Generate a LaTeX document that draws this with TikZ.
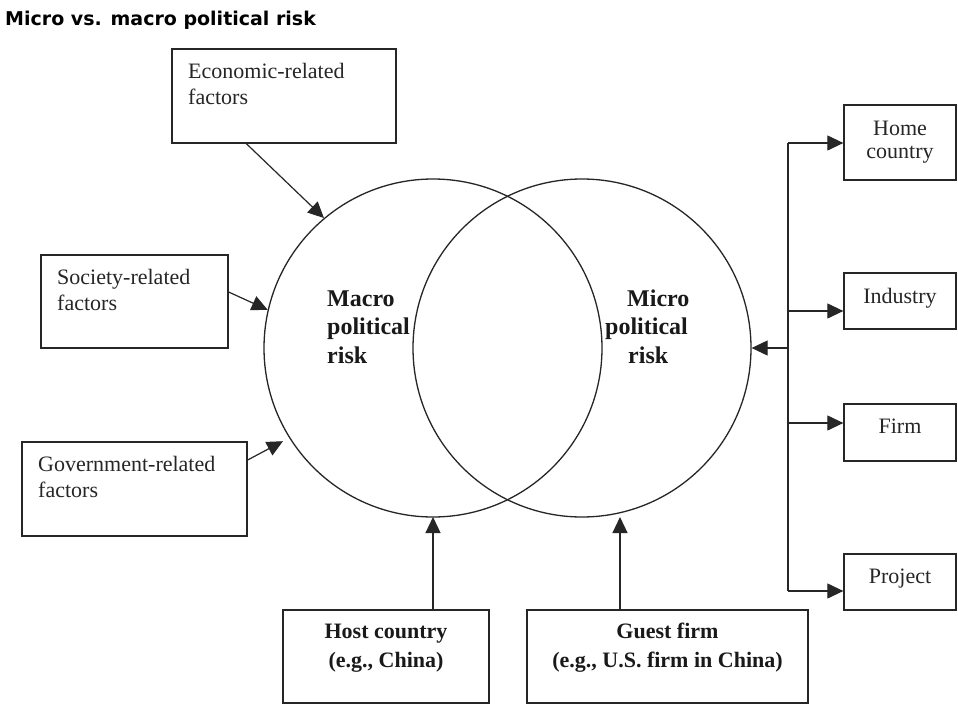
\documentclass[tikz,border=0pt]{standalone}
\usepackage{fontspec}
\setmainfont{Liberation Serif}
\newfontfamily\titlefam{DejaVu Sans}
\usetikzlibrary{arrows.meta,calc}
\tikzset{
  box/.style={draw=black!85, line width=1.3pt, inner sep=0pt, rectangle},
  ring/.style={draw=black!85, line width=1.3pt, circle, inner sep=0pt, minimum size=338pt},
  conn/.style={draw=black!85, line width=1.2pt},
  arr/.style={conn, -{Triangle[length=16pt,width=15pt]}},
  reg/.style={inner sep=0pt, font=\fontsize{22}{26}\selectfont, text=black!85},
  bld/.style={inner sep=0pt, font=\fontsize{22}{29}\selectfont\bfseries, text=black!90},
  big/.style={inner sep=0pt, font=\fontsize{24}{28.5}\selectfont\bfseries, text=black!90}
}
\begin{document}
\begin{tikzpicture}[x=1pt,y=-1pt]
\useasboundingbox (0,0) rectangle (958,704);
\fill[white] (0,0) rectangle (958,704);
% title
\node[anchor=base west, inner sep=0pt, font=\titlefam\fontsize{19}{22}\selectfont\bfseries] (title) at (5,25) {Micro vs. macro political risk};
% circles
\node[ring] (macro) at (433,348) {};
\node[ring] (micro) at (582,348) {};
\node[big, anchor=base west, align=left] (macrotxt) at (327,363) {Macro\\political\\risk};
\node[big, anchor=base west, align=left] (microtxt) at (605,363) {\hspace*{22pt}Micro\\political\\\hspace*{23pt}risk};
% left boxes
\node[box, minimum width=224pt, minimum height=94pt] (econ) at (284,96) {};
\node[reg, anchor=base west, align=left] (econtxt) at (188,104) {Economic-related\\factors};
\node[box, minimum width=187pt, minimum height=93pt] (soc) at (134.5,301.5) {};
\node[reg, anchor=base west, align=left] (soctxt) at (57,310) {Society-related\\factors};
\node[box, minimum width=225pt, minimum height=94pt] (gov) at (134.5,489) {};
\node[reg, anchor=base west, align=left] (govtxt) at (38,497) {Government-related\\factors};
% bottom boxes
\node[box, minimum width=206pt, minimum height=93pt] (host) at (386,656.5) {};
\node[bld, anchor=base, align=center] (hosttxt) at (386,667) {Host country\\(e.g., China)};
\node[box, minimum width=281pt, minimum height=93pt] (guest) at (667.5,656.5) {};
\node[bld, anchor=base, align=center] (guesttxt) at (667.5,667) {Guest firm\\(e.g., U.S. firm in China)};
% right boxes
\node[box, minimum width=112pt, minimum height=75pt] (home) at (900,142.5) {};
\node[reg, anchor=base, align=center, font=\fontsize{22}{23}\selectfont] (hometxt) at (900,158) {Home\\country};
\node[box, minimum width=112pt, minimum height=56pt] (ind) at (900,301) {};
\node[reg, anchor=base] (indtxt) at (900,303) {Industry};
\node[box, minimum width=112pt, minimum height=57pt] (firm) at (900,432.5) {};
\node[reg, anchor=base] (firmtxt) at (900,433) {Firm};
\node[box, minimum width=112pt, minimum height=56pt] (proj) at (900,582) {};
\node[reg, anchor=base] (projtxt) at (900,583) {Project};
% left arrows
\draw[arr] ($(econ.south west)+(75,0)$) -- (macro.130);
\draw[arr] ($(soc.east)+(0,-9.5)$) -- (macro.167);
\draw[arr, shorten >=7pt] ($(gov.east)+(0,-29)$) -- (macro.212);
% bottom arrows
\coordinate (htip) at (433,517);
\coordinate (gtip) at (620,517);
\draw[arr] (htip |- host.north) -- (htip);
\draw[arr] (gtip |- guest.north) -- (gtip);
% right bus
\coordinate (b1) at (788,143);
\coordinate (b2) at (788,311);
\coordinate (bm) at (788,348);
\coordinate (b3) at (788,423);
\coordinate (b4) at (788,591);
\draw[conn] (b1) -- (b4);
\draw[arr] (b1) -- (b1 -| home.west);
\draw[arr] (b2) -- (b2 -| ind.west);
\draw[arr] (b3) -- (b3 -| firm.west);
\draw[arr] (b4) -- (b4 -| proj.west);
\draw[arr] (bm) -- (micro.east);
\end{tikzpicture}
\end{document}
